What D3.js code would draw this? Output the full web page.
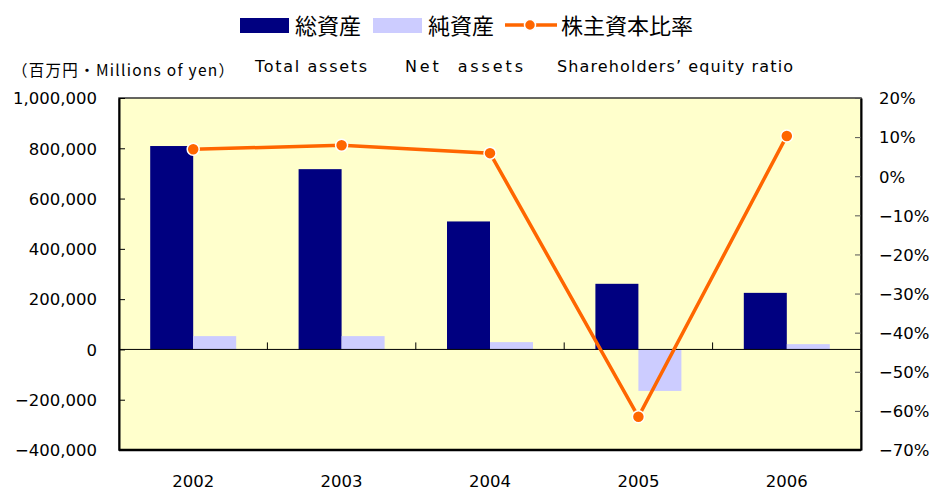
<!DOCTYPE html>
<html>
<head>
<meta charset="utf-8">
<script src="https://cdn.jsdelivr.net/npm/d3@7"></script>
<style>
  body { margin: 0; background: #fff; }
  svg text { font-family: "DejaVu Sans", "Noto Sans CJK JP", sans-serif; fill: #000; }
  .jp { font-family: "Noto Sans CJK JP", sans-serif; }
</style>
</head>
<body>
<svg id="chart" width="931" height="493"></svg>
<script>
// data
const years = ['2002', '2003', '2004', '2005', '2006']
const totalAssets = [809000, 717000, 509000, 261000, 225000]
const netAssets = [53000, 53000, 29000, -165000, 21000]
const equityRatio = [6.9, 7.9, 5.9, -61.5, 10.3]
const leftTicks = [-400000, -200000, 0, 200000, 400000, 600000, 800000, 1000000]
const rightTicks = [-70, -60, -50, -40, -30, -20, -10, 0, 10, 20]

const svg = d3.select('#chart')
const plot = {left: 119, right: 861, top: 98, bottom: 450}

// scales
const x = d3.scaleBand().domain(years).range([plot.left, plot.right])
const y = d3.scaleLinear().domain([-400000, 1000000]).range([plot.bottom, plot.top])
const y2 = d3.scaleLinear().domain([-70, 20]).range([plot.bottom, plot.top])
const barW = 43

// background
svg.append('rect')
    .attr('x', plot.left).attr('y', plot.top)
    .attr('width', plot.right - plot.left).attr('height', plot.bottom - plot.top)
    .style('fill', '#FFFFCC').style('stroke', '#333').style('stroke-width', 1.5)

// bars - total assets
svg.selectAll('rect.total').data(years).enter().append('rect')
    .attr('class', 'total')
    .attr('x', d => x(d) + x.bandwidth() / 2 - barW)
    .attr('width', barW)
    .attr('y', (d, i) => y(Math.max(0, totalAssets[i])))
    .attr('height', (d, i) => Math.abs(y(totalAssets[i]) - y(0)))
    .style('fill', '#000080')

// bars - net assets
svg.selectAll('rect.net').data(years).enter().append('rect')
    .attr('class', 'net')
    .attr('x', d => x(d) + x.bandwidth() / 2)
    .attr('width', barW)
    .attr('y', (d, i) => y(Math.max(0, netAssets[i])))
    .attr('height', (d, i) => Math.abs(y(netAssets[i]) - y(0)))
    .style('fill', '#CCCCFF')

// zero line + category ticks
svg.append('line')
    .attr('x1', plot.left).attr('x2', plot.right)
    .attr('y1', y(0)).attr('y2', y(0))
    .style('stroke', '#000').style('stroke-width', 1)
svg.selectAll('line.cat').data(years.slice(1)).enter().append('line')
    .attr('x1', d => x(d)).attr('x2', d => x(d))
    .attr('y1', y(0)).attr('y2', y(0) - 7)
    .style('stroke', '#000').style('stroke-width', 1)

// left axis
const axisL = d3.axisLeft(y).tickValues(leftTicks).tickSizeInner(-6).tickSizeOuter(0).tickPadding(22)
    .tickFormat(d3.format(','))
const gL = svg.append('g').attr('transform', `translate(${plot.left},0)`).call(axisL)
gL.select('.domain').style('stroke', '#000').style('stroke-width', 2)
gL.selectAll('text').style('font-size', '16.5px').style('font-family', '"DejaVu Sans"').attr('dy', '0.35em')

// right axis
const axisR = d3.axisRight(y2).tickValues(rightTicks).tickSizeInner(-6).tickSizeOuter(0).tickPadding(18)
    .tickFormat(d => d3.format('')(d) + '%')
const gR = svg.append('g').attr('transform', `translate(${plot.right},0)`).call(axisR)
gR.select('.domain').style('stroke', '#000').style('stroke-width', 2)
gR.selectAll('.tick line').style('stroke', '#555')
gR.selectAll('text').style('font-size', '16.5px').style('font-family', '"DejaVu Sans"').attr('dy', '0.35em')

// bottom border
svg.append('line')
    .attr('x1', plot.left).attr('x2', plot.right)
    .attr('y1', plot.bottom).attr('y2', plot.bottom)
    .style('stroke', '#000').style('stroke-width', 2.5)

// x labels
svg.selectAll('text.year').data(years).enter().append('text')
    .attr('x', d => x(d) + x.bandwidth() / 2)
    .attr('y', 487)
    .attr('text-anchor', 'middle')
    .style('font-size', '16.5px')
    .text(d => d)

// ratio line
const line = d3.line()
    .x((d, i) => x(years[i]) + x.bandwidth() / 2)
    .y(d => y2(d))
svg.append('path')
    .attr('d', line(equityRatio))
    .style('fill', 'none').style('stroke', '#FF6600').style('stroke-width', 3.5)
svg.selectAll('circle.pt').data(equityRatio).enter().append('circle')
    .attr('cx', (d, i) => x(years[i]) + x.bandwidth() / 2)
    .attr('cy', d => y2(d))
    .attr('r', 6)
    .style('fill', '#FF6600').style('stroke', '#fff').style('stroke-width', 1.5)

// legend
const lg = svg.append('g')
lg.append('rect').attr('x', 240).attr('y', 18).attr('width', 49).attr('height', 15).style('fill', '#000080')
lg.append('text').attr('class', 'jp').attr('x', 295).attr('y', 34).style('font-size', '22px').text('総資産')
lg.append('rect').attr('x', 373).attr('y', 18).attr('width', 49).attr('height', 15).style('fill', '#CCCCFF')
lg.append('text').attr('class', 'jp').attr('x', 428).attr('y', 34).style('font-size', '22px').text('純資産')
lg.append('line').attr('x1', 505).attr('x2', 557).attr('y1', 25).attr('y2', 25)
    .style('stroke', '#FF6600').style('stroke-width', 3.5)
lg.append('circle').attr('cx', 530).attr('cy', 25).attr('r', 5.5)
    .style('fill', '#FF6600').style('stroke', '#fff').style('stroke-width', 1.5)
lg.append('text').attr('class', 'jp').attr('x', 561).attr('y', 34).style('font-size', '22px').text('株主資本比率')

// sub labels
const sub = svg.append('g').style('font-size', '16px')
sub.append('text').attr('class', 'jp').attr('x', 12).attr('y', 76).style('font-size', '15.5px')
    .attr('textLength', 222).attr('lengthAdjust', 'spacing').text('（百万円・Millions of yen）')
sub.append('text').attr('x', 255).attr('y', 72)
    .attr('textLength', 112).attr('lengthAdjust', 'spacing').text('Total assets')
sub.append('text').attr('x', 405).attr('y', 72).attr('xml:space', 'preserve')
    .attr('textLength', 118).attr('lengthAdjust', 'spacing').text('Net  assets')
sub.append('text').attr('x', 557).attr('y', 72)
    .attr('textLength', 236).attr('lengthAdjust', 'spacing').text('Shareholders’ equity ratio')
</script>
</body>
</html>
